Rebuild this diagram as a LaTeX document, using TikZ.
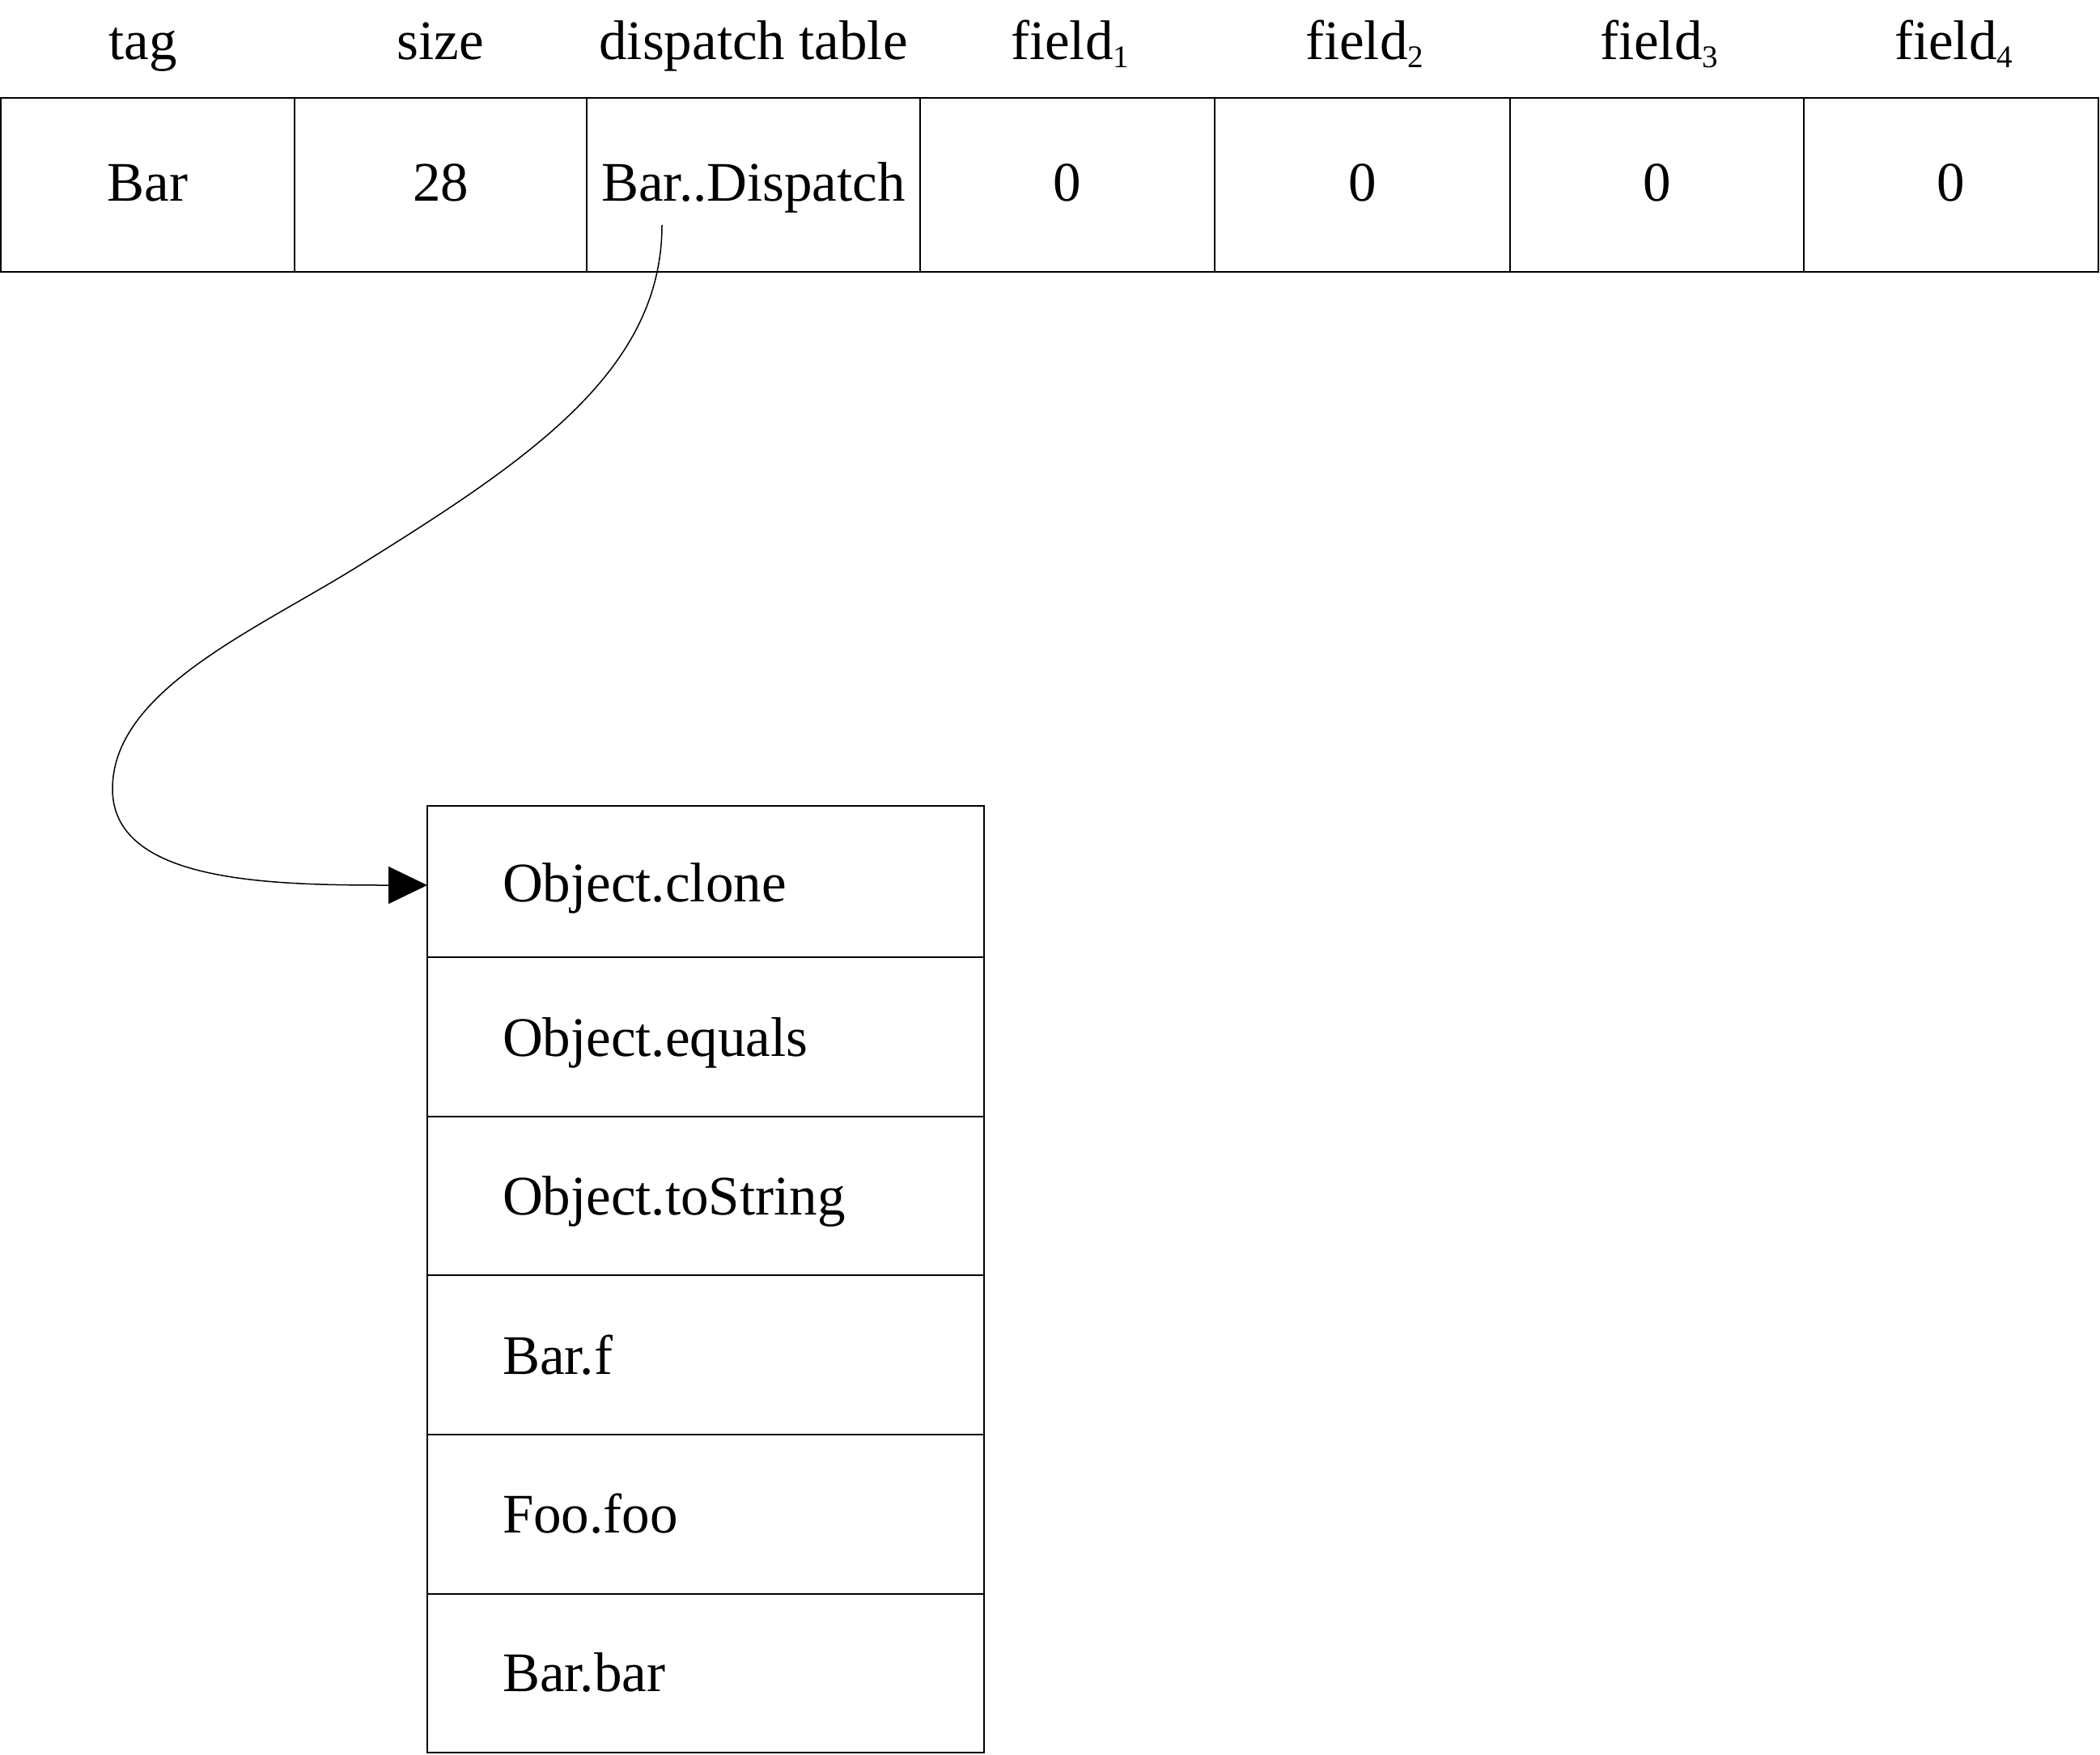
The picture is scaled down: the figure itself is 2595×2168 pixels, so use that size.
\documentclass[tikz,border=0pt]{standalone}
\usepackage{fontspec}
\setmainfont{Liberation Serif}
\usetikzlibrary{arrows.meta}
\newcommand{\fsub}[1]{\raisebox{-5pt}{\fontsize{19.5}{20}\selectfont #1}}
\begin{document}
\begin{tikzpicture}[x=0.5pt,y=-0.5pt,
  cell/.style={draw, line width=0.8pt, inner sep=0pt, outer sep=0pt, rectangle},
  txt/.style={inner sep=0pt, outer sep=0pt, font=\fontsize{34.5}{40}\selectfont},
  link/.style={line width=0.75pt, -{Triangle[length=24pt,width=23pt]}}]
\useasboundingbox (0,0) rectangle (2595,2168);
% top row cells
\node[cell, minimum width=181.5pt, minimum height=107.5pt] (cTag) at (182.5,228.5) {};
\node[cell, minimum width=180.5pt, minimum height=107.5pt] (cSize) at (544.5,228.5) {};
\node[cell, minimum width=206pt, minimum height=107.5pt] (cDisp) at (931,228.5) {};
\node[cell, minimum width=182pt, minimum height=107.5pt] (cF1) at (1319,228.5) {};
\node[cell, minimum width=182.5pt, minimum height=107.5pt] (cF2) at (1683.5,228.5) {};
\node[cell, minimum width=181.5pt, minimum height=107.5pt] (cF3) at (2047.5,228.5) {};
\node[cell, minimum width=182pt, minimum height=107.5pt] (cF4) at (2411,228.5) {};
% headers
\node[txt, anchor=base] (hTag) at (176.5,73) {tag};
\node[txt, anchor=base] (hSize) at (544.5,73) {size};
\node[txt, anchor=base] (hDisp) at (931,73) {dispatch table};
\node[txt, anchor=base] (hF1) at (1322,73) {field\fsub{1}};
\node[txt, anchor=base] (hF2) at (1686,73) {field\fsub{2}};
\node[txt, anchor=base] (hF3) at (2050,73) {field\fsub{3}};
\node[txt, anchor=base] (hF4) at (2414,73) {field\fsub{4}};
% values
\node[txt, anchor=base] (vTag) at (182.5,248) {Bar};
\node[txt, anchor=base] (vSize) at (544.5,248) {28};
\node[txt, anchor=base] (vDisp) at (931,248) {Bar..Dispatch};
\node[txt, anchor=base] (vF1) at (1319,248) {0};
\node[txt, anchor=base] (vF2) at (1683.5,248) {0};
\node[txt, anchor=base] (vF3) at (2047.5,248) {0};
\node[txt, anchor=base] (vF4) at (2411,248) {0};
% dispatch table cells
\node[cell, minimum width=344pt, minimum height=93.5pt] (d1) at (872,1089.5) {};
\node[cell, minimum width=344pt, minimum height=98.5pt] (d2) at (872,1281.5) {};
\node[cell, minimum width=344pt, minimum height=98pt] (d3) at (872,1478) {};
\node[cell, minimum width=344pt, minimum height=98.5pt] (d4) at (872,1674.5) {};
\node[cell, minimum width=344pt, minimum height=98.5pt] (d5) at (872,1871.5) {};
\node[cell, minimum width=344pt, minimum height=98pt] (d6) at (872,2068) {};
\node[txt, anchor=base west] (t1) at (621,1114) {Object.clone};
\node[txt, anchor=base west] (t2) at (621,1305) {Object.equals};
\node[txt, anchor=base west] (t3) at (621,1501) {Object.toString};
\node[txt, anchor=base west] (t4) at (621,1698) {Bar.f};
\node[txt, anchor=base west] (t5) at (621,1894) {Foo.foo};
\node[txt, anchor=base west] (t6) at (621,2090) {Bar.bar};
% connector
\coordinate (dstart) at (818,278);
\coordinate (dend) at (528,1094);
\draw[link] (dstart) .. controls (818,460) and (651,570) .. (439,702)
  .. controls (311,781) and (139,855) .. (139,975)
  .. controls (139,1090) and (330,1094) .. (dend);
\end{tikzpicture}
\end{document}
